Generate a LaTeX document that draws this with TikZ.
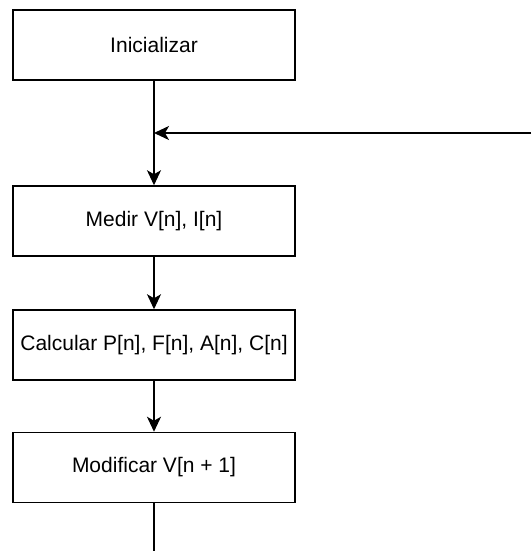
\documentclass[tikz,border=0pt]{standalone}
\usepackage{fontspec}
\setmainfont{Liberation Sans}
\usetikzlibrary{arrows.meta,positioning}

\begin{document}
\begin{tikzpicture}[x=1pt, y=-1pt, >={Stealth[length=15pt,width=14pt,inset=4pt]},
  stepbox/.style={rectangle,draw,line width=1.5pt,minimum width=282pt,minimum height=70pt,
    inner sep=0pt,font=\fontsize{21}{25}\selectfont},
  link/.style={->,line width=1.5pt}]
  \useasboundingbox (0,0) rectangle (531,551);
  % Steps of the loop
  \node[stepbox] (init) at (154,45) {Inicializar};
  \node[stepbox] (medir) at (154,221) {Medir V[n], I[n]};
  \node[stepbox] (calc) at (154,345) {Calcular P[n], F[n], A[n], C[n]};
  \node[stepbox] (modif) at (154,467.5) {Modificar V[n + 1]};
  % Loop return and exit
  \coordinate (join) at (154,133);
  \coordinate (back) at (531,133);
  \coordinate (exit) at (154,551);
  % Links
  \draw[link] (init) -- (medir);
  \draw[link] (back) -- (join);
  \draw[link] (medir) -- (calc);
  \draw[link] (calc) -- (modif);
  \draw[line width=1.5pt] (modif) -- (exit);
\end{tikzpicture}
\end{document}
